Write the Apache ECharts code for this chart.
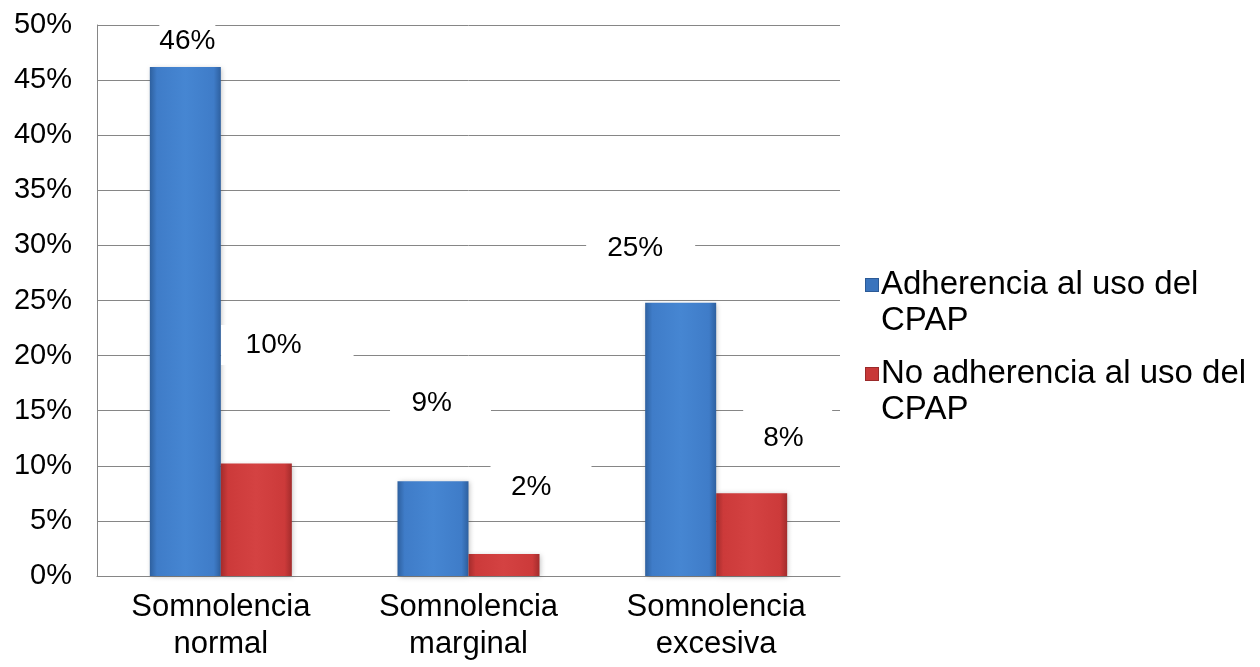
<!DOCTYPE html>
<html>
<head>
<meta charset="utf-8">
<script src="https://cdn.jsdelivr.net/npm/echarts@6/dist/echarts.min.js"></script>
<style>
  html, body { margin: 0; padding: 0; background: #ffffff; }
  #chart { width: 1260px; height: 667px; }
</style>
</head>
<body>
<div id="chart"></div>
<script>
// Somnolence level vs. CPAP adherence (percent of patients)
const categories = ['Somnolencia\nnormal', 'Somnolencia\nmarginal', 'Somnolencia\nexcesiva'];
const seriesNames = ['Adherencia al uso del CPAP', 'No adherencia al uso del CPAP'];
const adherencia = [46.2, 8.6, 24.8];
const noAdherencia = [10.2, 2.0, 7.5];
const yTicks = { min: 0, max: 50, interval: 5 };

// Hand-placed data label boxes: [offsetX, offsetY, padding]
const labelPlacementA = [
  { offset: [2, -10], padding: [0, 0, 0, 0] },
  { offset: [7.5, -58], padding: [4, 39, 4, 21.5] },
  { offset: [-40, -34], padding: [4, 32, 4, 21] }
];
const labelPlacementB = [
  { offset: [31, -98.5], padding: [4, 52, 4, 24.5] },
  { offset: [37, -47], padding: [8, 40, 4, 20.5] },
  { offset: [36, -35], padding: [14, 28.5, 4, 20] }
];

const FONT = "'Liberation Sans', Arial, sans-serif";
const GRID_COLOR = '#868686';

function barGradient(edge, mid, light) {
  return new echarts.graphic.LinearGradient(0, 0, 1, 0, [
    { offset: 0, color: edge },
    { offset: 0.1, color: mid },
    { offset: 0.5, color: light },
    { offset: 0.9, color: mid },
    { offset: 1, color: edge }
  ]);
}
const blueFill = barGradient('#2e609f', '#3f7cc8', '#4686d2');
const redFill = barGradient('#a32c2c', '#cc3a3a', '#d44242');

function buildData(values, placement) {
  return values.map((v, i) => ({
    value: v,
    label: {
      offset: placement[i].offset,
      padding: placement[i].padding
    }
  }));
}

const labelBase = {
  show: true,
  position: 'top',
  distance: 0,
  verticalAlign: 'bottom',
  color: '#000',
  fontFamily: FONT,
  fontSize: 28,
  lineHeight: 32,
  backgroundColor: '#ffffff',
  formatter: p => Math.round(p.value) + '%'
};

function legendText(name) {
  const cut = name.lastIndexOf(' ');
  const first = name.slice(0, cut);
  const second = name.slice(cut + 1);
  const key = name === seriesNames[0] ? 'sqA' : 'sqB';
  return '{' + key + '|}{g|}{t|' + first + '}\n{sp|}{t|' + second + '}';
}

const chart = echarts.init(document.getElementById('chart'), null, { renderer: 'canvas' });
chart.setOption({
  backgroundColor: '#ffffff',
  animation: false,
  textStyle: { fontFamily: FONT },
  grid: { left: 97, right: 420, top: 25, bottom: 91, containLabel: false },
  legend: {
    orient: 'vertical',
    left: 856,
    top: 262,
    itemWidth: 0,
    itemHeight: 14,
    itemGap: 17,
    selectedMode: false,
    data: seriesNames,
    formatter: legendText,
    textStyle: {
      color: '#000',
      fontFamily: FONT,
      fontSize: 33,
      lineHeight: 36,
      rich: {
        sqA: { width: 12, height: 12, backgroundColor: '#3a74bd', borderColor: '#2b5a96', borderWidth: 1, verticalAlign: 'middle' },
        sqB: { width: 12, height: 12, backgroundColor: '#c83838', borderColor: '#9a2a2a', borderWidth: 1, verticalAlign: 'middle' },
        g: { width: 3 },
        sp: { width: 15 },
        t: { fontSize: 33, lineHeight: 36, color: '#000', fontFamily: FONT }
      }
    }
  },
  xAxis: {
    type: 'category',
    data: categories,
    axisTick: { show: false },
    axisLine: { show: true, lineStyle: { color: GRID_COLOR, width: 1 } },
    axisLabel: {
      color: '#000',
      fontFamily: FONT,
      fontSize: 31,
      lineHeight: 37,
      margin: 13,
      interval: 0
    }
  },
  yAxis: {
    type: 'value',
    min: yTicks.min,
    max: yTicks.max,
    interval: yTicks.interval,
    axisTick: { show: false },
    axisLine: { show: true, lineStyle: { color: GRID_COLOR, width: 1 } },
    splitLine: { show: true, lineStyle: { color: GRID_COLOR, width: 1 } },
    axisLabel: {
      color: '#000',
      fontFamily: FONT,
      fontSize: 29,
      margin: 25,
      padding: [6, 0, 0, 0],
      formatter: '{value}%'
    }
  },
  series: [
    {
      name: seriesNames[0],
      type: 'bar',
      barWidth: 71,
      barGap: '0%',
      data: buildData(adherencia, labelPlacementA),
      itemStyle: {
        color: blueFill,
        shadowColor: 'rgba(0,0,0,0.25)',
        shadowBlur: 5,
        shadowOffsetX: 1,
        shadowOffsetY: 1
      },
      label: labelBase
    },
    {
      name: seriesNames[1],
      type: 'bar',
      barWidth: 71,
      barGap: '0%',
      data: buildData(noAdherencia, labelPlacementB),
      itemStyle: {
        color: redFill,
        shadowColor: 'rgba(0,0,0,0.25)',
        shadowBlur: 5,
        shadowOffsetX: 1,
        shadowOffsetY: 1
      },
      label: labelBase
    }
  ]
});
</script>
</body>
</html>
